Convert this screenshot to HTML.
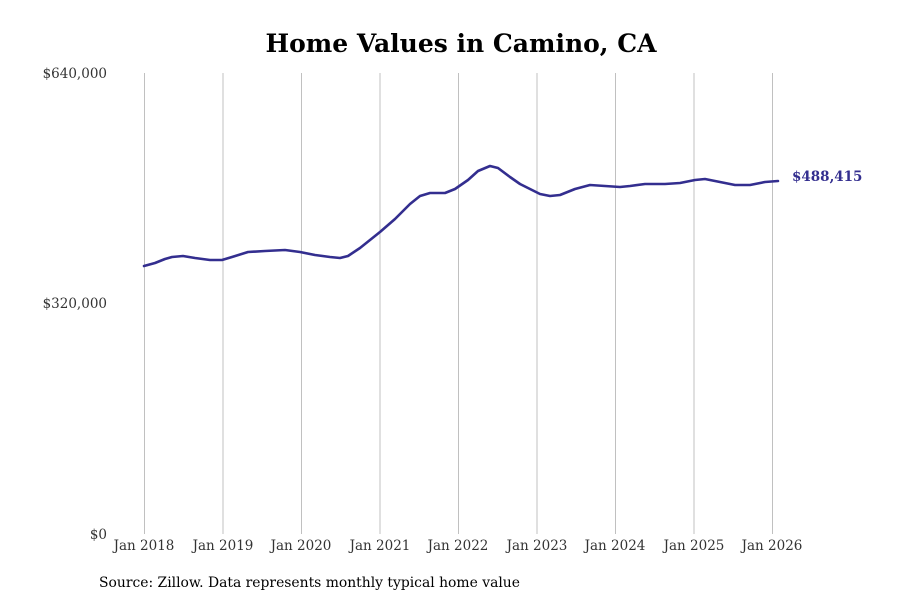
<!DOCTYPE html>
<html><head><meta charset="utf-8"><style>
body{margin:0;background:#fff;}
svg{display:block;font-family:"DejaVu Serif","Liberation Serif",serif;}
</style></head><body>
<svg width="900" height="600" viewBox="0 0 900 600" xmlns="http://www.w3.org/2000/svg">
<text x="461" y="52" text-anchor="middle" font-size="25" font-weight="bold" fill="#000">Home Values in Camino, CA</text>
<g stroke="#c0c0c0" stroke-width="1">
<line x1="144.5" y1="73" x2="144.5" y2="534"/>
<line x1="223" y1="73" x2="223" y2="534"/>
<line x1="301.5" y1="73" x2="301.5" y2="534"/>
<line x1="380" y1="73" x2="380" y2="534"/>
<line x1="458.5" y1="73" x2="458.5" y2="534"/>
<line x1="537" y1="73" x2="537" y2="534"/>
<line x1="615.5" y1="73" x2="615.5" y2="534"/>
<line x1="694" y1="73" x2="694" y2="534"/>
<line x1="772.5" y1="73" x2="772.5" y2="534"/>
</g>
<g font-size="13.5" fill="#333" text-anchor="end">
<text x="107" y="78">$640,000</text>
<text x="107" y="308">$320,000</text>
<text x="107" y="539">$0</text>
</g>
<g font-size="13.5" fill="#333" text-anchor="middle">
<text x="144" y="550">Jan 2018</text>
<text x="223" y="550">Jan 2019</text>
<text x="301" y="550">Jan 2020</text>
<text x="380" y="550">Jan 2021</text>
<text x="458" y="550">Jan 2022</text>
<text x="537" y="550">Jan 2023</text>
<text x="615" y="550">Jan 2024</text>
<text x="694" y="550">Jan 2025</text>
<text x="772" y="550">Jan 2026</text>
</g>
<polyline fill="none" stroke="#332e8f" stroke-width="2.6" stroke-linejoin="round" stroke-linecap="round"
points="144,266 155,263 165,259 172,257 183,256 195,258 210,260 222,260 232,257 248,252 265,251 285,250 300,252 315,255 330,257 340,258 348,256 360,248 370,240 380,232 395,219 410,204 420,196 430,193 445,193 455,189 468,180 478,171 490,166 498,168 510,177 520,184 530,189 540,194 550,196 560,195 575,189 590,185 605,186 620,187 630,186 645,184 665,184 680,183 695,180 705,179 720,182 735,185 750,185 765,182 778,181"/>
<text x="792" y="181" font-size="13.5" font-weight="bold" fill="#332e8f">$488,415</text>
<text x="99" y="587" font-size="13.9" fill="#000">Source: Zillow. Data represents monthly typical home value</text>
</svg>
</body></html>
